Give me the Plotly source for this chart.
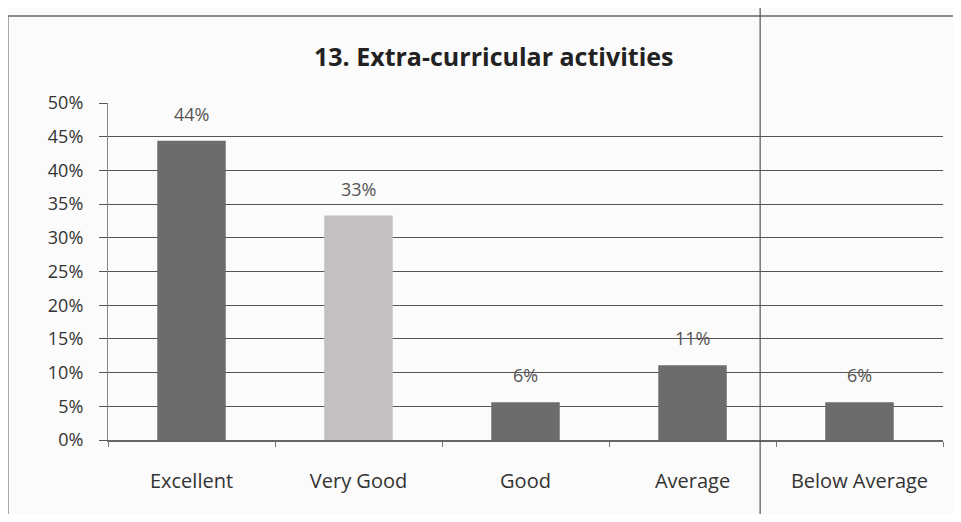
import plotly.graph_objects as go

categories = ["Excellent", "Very Good", "Good", "Average", "Below Average"]
values = [44.4, 33.3, 5.6, 11.1, 5.6]
labels = ["44%", "33%", "6%", "11%", "6%"]
bar_colors = ["#6c6c6c", "#c2c0c0", "#6c6c6c", "#6c6c6c", "#6c6c6c"]
tick_vals = [0, 5, 10, 15, 20, 25, 30, 35, 40, 45, 50]
tick_text = ["0%", "5%", "10%", "15%", "20%", "25%", "30%", "35%", "40%", "45%", "50%"]
title = "13. Extra-curricular activities"

FONT = "Open Sans, Liberation Sans, sans-serif"

fig = go.Figure()
fig.add_trace(go.Bar(
    x=categories, y=values,
    marker=dict(color=bar_colors, line=dict(width=0)),
    width=0.41,
    hoverinfo="skip",
))

for c, v, t in zip(categories, values, labels):
    fig.add_annotation(x=c, y=v, text=t, showarrow=False, yshift=27, yanchor="middle",
                       font=dict(family=FONT, size=18, color="#555555"))

fig.add_annotation(x=0.462, y=1.0, xref="paper", yref="paper", yshift=47, yanchor="middle",
                   text="<b>" + title + "</b>", showarrow=False,
                   font=dict(family=FONT, size=25, color="#222222"))

shapes = [
    # outer chart border (top and left edges visible in the scan)
    dict(type="line", xref="paper", yref="paper", x0=-0.12, x1=1.1, y0=1.258, y1=1.258,
         line=dict(color="#666666", width=1.5), layer="below"),
    dict(type="line", xref="paper", yref="paper", x0=-0.12, x1=-0.12, y0=-0.4, y1=1.258,
         line=dict(color="#666666", width=1.5), layer="below"),
    # page fold line
    dict(type="line", xref="paper", yref="paper", x0=0.781, x1=0.781, y0=-0.4, y1=1.35,
         line=dict(color="#555555", width=1.2)),
]

fig.update_layout(
    width=945, height=506,
    margin=dict(l=100, r=10, t=95, b=74),
    paper_bgcolor="#fcfbfb", plot_bgcolor="#fcfbfb",
    showlegend=False,
    shapes=shapes,
    xaxis=dict(
        showgrid=False, showline=True, linecolor="#666666", linewidth=1.5,
        ticks="outside", tickson="boundaries", ticklen=5, tickcolor="#777777",
        ticklabelstandoff=22,
        tickfont=dict(family=FONT, size=20, color="#333333"),
    ),
    yaxis=dict(
        range=[0, 50], tickvals=tick_vals, ticktext=tick_text,
        showgrid=True, gridcolor="#555555", gridwidth=1.3,
        showline=True, linecolor="#888888", linewidth=1.2,
        ticks="outside", ticklen=8, tickcolor="#555555",
        ticklabelstandoff=12,
        tickfont=dict(family=FONT, size=18, color="#333333"),
        zeroline=False,
    ),
)

fig.write_html("out.html")
